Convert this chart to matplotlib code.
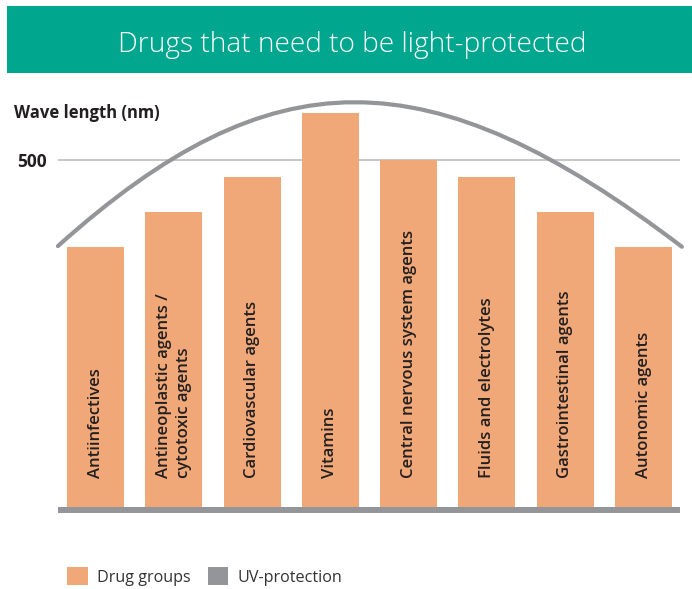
import numpy as np
import matplotlib
matplotlib.use("Agg")
import matplotlib.pyplot as plt
from matplotlib.patches import Rectangle, Patch, PathPatch
from matplotlib.path import Path

# ---- data ----
categories = [
    "Antiinfectives",
    "Antineoplastic agents /\ncytotoxic agents",
    "Cardiovascular agents",
    "Vitamins",
    "Central nervous system agents",
    "Fluids and electrolytes",
    "Gastrointestinal agents",
    "Autonomic agents",
]
wavelength_nm = [375, 425, 475, 568, 500, 475, 425, 375]
ytick_values = [500]
ytick_labels = ["500"]
# UV-protection curve: cubic Bezier (category index, nm): start, control, control, end
uv_curve_x = [-0.48, 2.25, 4.25, 7.49]
uv_curve_nm = [376, 652, 653, 375]

title = "Drugs that need to be light-protected"
ylabel = "Wave length (nm)"
legend_labels = ["Drug groups", "UV-protection"]

# ---- style ----
BAR = "#F0A878"
GRAY = "#939598"
TEAL = "#00A78E"
GRID = "#BDBDBF"
TXT = "#231F20"

plt.rcParams["font.family"] = ["Open Sans", "DejaVu Sans"]

W, H = 692, 589
fig = plt.figure(figsize=(W / 100, H / 100), dpi=100)

# title banner
fig.patches.append(Rectangle((7 / W, 1 - 73 / H), 1 - 7 / W, 67 / H,
                             transform=fig.transFigure, facecolor=TEAL,
                             edgecolor="none", zorder=0))
fig.text(352 / W, 1 - 52 / H, title, color="white", fontsize=20.2,
         fontweight="light", ha="center", va="baseline")

# axes in pixel layout
left_px, right_px, top_px, bot_px = 58, 680, 90, 513
ax = fig.add_axes([left_px / W, 1 - bot_px / H, (right_px - left_px) / W,
                   (bot_px - top_px) / H])
ax.set_xlim(-0.479, 7.466)
ax.set_ylim(-8.65, 600.9)
for s in ax.spines.values():
    s.set_visible(False)
ax.set_xticks([])
ax.set_yticks(ytick_values)
ax.set_yticklabels(ytick_labels, fontsize=12.5, fontweight="bold", color=TXT)
ax.tick_params(axis="y", length=0, pad=8)

x = np.arange(len(categories))
ax.axhline(ytick_values[0], color=GRID, lw=1.2, zorder=1)
ax.bar(x, wavelength_nm, width=0.728, color=BAR, zorder=2)
ax.axhspan(ax.get_ylim()[0], 0, color=GRAY, zorder=3, lw=0)

for xi, lab in zip(x, categories):
    ax.annotate(lab, (xi, 0), xytext=(0, 29 * 0.72), textcoords="offset points",
                rotation=90, ha="center", va="bottom", multialignment="left",
                fontsize=12, fontweight="semibold", color=TXT,
                linespacing=1.3, zorder=4)

# UV-protection curve
verts = list(zip(uv_curve_x, uv_curve_nm))
codes = [Path.MOVETO, Path.CURVE4, Path.CURVE4, Path.CURVE4]
ax.add_patch(PathPatch(Path(verts, codes), facecolor="none", edgecolor=GRAY,
                       lw=3.0, zorder=5, clip_on=False, capstyle="round"))

# y label
fig.text(14 / W, 1 - 118 / H, ylabel, fontsize=12, fontweight="bold",
         color=TXT, ha="left", va="baseline")

# legend
handles = [Patch(facecolor=BAR, edgecolor="none"),
           Patch(facecolor=GRAY, edgecolor="none")]
fig.legend(handles, legend_labels, loc="center left",
           bbox_to_anchor=(67 / W, 1 - 576.5 / H), ncol=2, frameon=False,
           fontsize=11.6, handlelength=1.3, handleheight=1.3,
           handletextpad=0.56, columnspacing=1.05, borderpad=0,
           borderaxespad=0, labelcolor="#333333")

fig.savefig("out.png", dpi=100)
